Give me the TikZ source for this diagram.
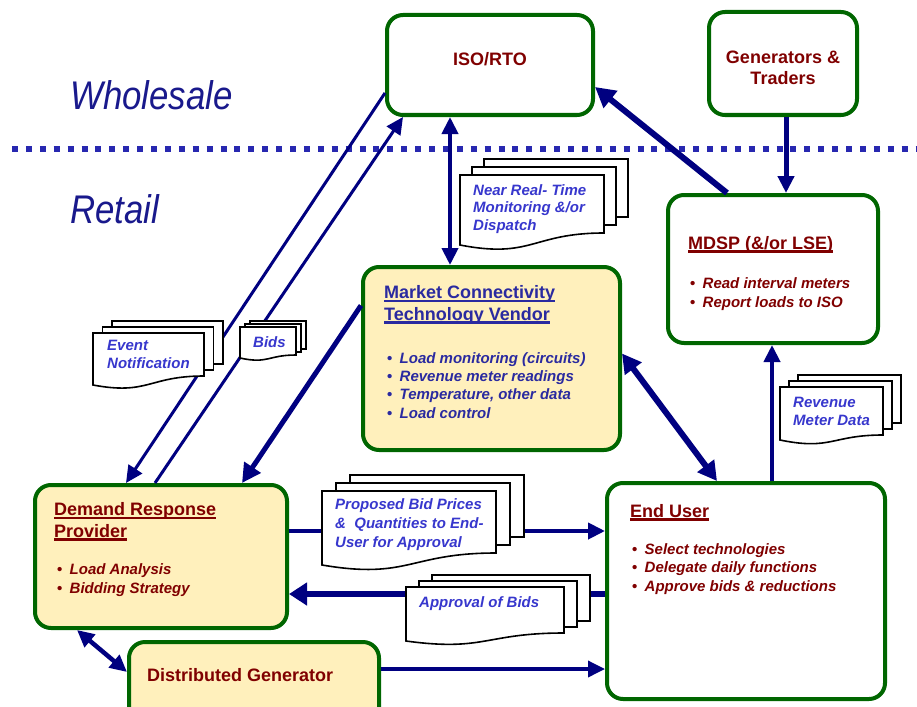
\documentclass[tikz,border=0pt]{standalone}
\usepackage{fontspec}
\setmainfont{Liberation Sans}
\usetikzlibrary{arrows.meta}

\definecolor{boxgreen}{RGB}{0,102,0}
\definecolor{paleyellow}{RGB}{255,240,188}
\definecolor{navy}{RGB}{0,0,128}
\definecolor{dotblue}{RGB}{40,40,176}
\definecolor{zoneblue}{RGB}{25,25,140}
\definecolor{docblue}{RGB}{55,55,205}
\definecolor{vendorblue}{RGB}{42,42,160}
\definecolor{darkred}{RGB}{128,0,0}

% thick underline drawn under a title
\newcommand\ulbar[1]{\setbox0=\hbox{#1}\rlap{\rule[-3.5pt]{\wd0}{2.2pt}}\box0}
% bullet with fixed indent
\newcommand\bull{\makebox[12.5pt][l]{\upshape\textbullet}}
% stack of three pages, front page with a wavy lower edge
% #1 left, #2 top, #3 width, #4 right bottom, #5 left bottom, #6 dx, #7 dy
\newcommand\docstack[7]{%
  \draw[docpage] ({#1+2*#6},{#2-2*#7}) rectangle ({#1+2*#6+#3},{#4-2*#7});
  \draw[docpage] ({#1+#6},{#2-#7}) rectangle ({#1+#6+#3},{#4-#7});
  \draw[docpage] (#1,#2) -- ({#1+#3},#2) -- ({#1+#3},#4)
    .. controls ({#1+0.5*#3},#4) and ({#1+0.5*#3},{#5+0.2*(#5-#2)}) .. (#1,#5) -- cycle;}

\begin{document}
\begin{tikzpicture}[x=1pt,y=-1pt,
  >={Triangle[length=17pt,width=16pt]},
  box/.style={draw=boxgreen, line width=4pt, rounded corners=16pt, fill=white, inner sep=0pt},
  ttl/.style={font=\bfseries\fontsize{18}{21.5}\selectfont, text=darkred, inner sep=0pt, align=left},
  bul/.style={font=\bfseries\itshape\fontsize{15}{18.3}\selectfont, text=darkred, inner sep=0pt, align=left, anchor=base west},
  doctxt/.style={font=\bfseries\itshape\fontsize{15}{18}\selectfont, text=docblue, inner sep=0pt, align=left, anchor=base west},
  docpage/.style={draw=black, line width=1.6pt, fill=white},
  conn/.style={draw=navy},
  zonelabel/.style={font=\itshape\fontsize{40}{40}\selectfont, text=zoneblue, inner sep=0pt, anchor=base west},
]
\useasboundingbox (0,0) rectangle (917,706);
\clip (0,0) rectangle (917,706);

% wholesale / retail boundary
\draw[dotblue, line width=6pt, dash pattern=on 6pt off 7.9pt] (12,149) -- (917,149);
\node[zonelabel] (wholesale) at (70,110) {\scalebox{0.87}[1]{Wholesale}};
\node[zonelabel] (retail) at (70,223) {\scalebox{0.87}[1]{Retail}};

% participants
\node[box, minimum width=206pt, minimum height=100pt] (iso) at (490,65) {};
\node[box, minimum width=148pt, minimum height=103pt] (gen) at (783,63.5) {};
\node[box, minimum width=210pt, minimum height=148pt] (mdsp) at (773,269) {};
\node[box, fill=paleyellow, minimum width=257pt, minimum height=183pt] (mctv) at (491.5,358.5) {};
\node[box, fill=paleyellow, minimum width=252pt, minimum height=143pt] (drp) at (161,556.5) {};
\node[box, fill=paleyellow, minimum width=250pt, minimum height=88pt] (dg) at (254,686) {};
\node[box, minimum width=278pt, minimum height=216pt] (eu) at (746,591) {};

% flows
\draw[conn, line width=3pt, ->] ([yshift=-28pt]iso.west) -- ([xshift=-35pt]drp.north);
\draw[conn, line width=3pt, ->] ([xshift=-6pt]drp.north) -- ([xshift=-87pt]iso.south);
\draw[conn, line width=5pt, -{Triangle[length=19pt,width=19pt]}] ([yshift=53pt]mctv.west) -- ([xshift=81pt]drp.north);
\draw[conn, line width=4pt, <->] ([xshift=-40pt]iso.south) -- ([xshift=-40pt]iso.south |- mctv.north);
\draw[conn, line width=6pt, -{Triangle[length=20pt,width=21pt]}] ([xshift=-46pt]mdsp.north) -- ([yshift=-22pt]iso.east);
\draw[conn, line width=5pt, ->] ([xshift=3pt]gen.south) -- ([xshift=3pt]gen.south |- mdsp.north);
\draw[conn, line width=4pt, ->] ([xshift=26pt]eu.north) -- ([xshift=26pt]eu.north |- mdsp.south);
\draw[conn, line width=6pt, {Triangle[length=19pt,width=20pt]}-{Triangle[length=19pt,width=20pt]}] ([yshift=5pt]mctv.east) -- ([xshift=-29pt]eu.north);
\draw[conn, line width=4pt, ->] ([yshift=25.5pt]drp.east) -- ([yshift=25.5pt]drp.east -| eu.west);
\draw[conn, line width=6.5pt, -{Triangle[length=18pt,width=22pt]}] ([yshift=-37.5pt]drp.east -| eu.west) -- ([yshift=-37.5pt]drp.east);
\draw[conn, line width=4.5pt, <->] ([xshift=-84pt]drp.south) -- ([yshift=14pt]dg.west);
\draw[conn, line width=3.5pt, ->] ([yshift=17pt]dg.east) -- ([yshift=17pt]dg.east -| eu.west);

% documents exchanged
\docstack{93}{333}{111}{376}{385}{9.5}{6}
\docstack{240}{327}{56}{355}{358}{5}{3}
\docstack{460}{175}{144}{233}{245}{12}{8}
\docstack{780}{387}{103}{435}{440}{9}{6}
\docstack{322}{491}{174}{553}{565}{14}{8}
\docstack{406}{587}{158}{633}{641}{13}{6}

% multi-line texts are placed by the baseline of their last line
\node[doctxt] (evt) at (107,368) {Event\\Notification};
\node[doctxt] (bidt) at (253,347) {Bids};
\node[doctxt, font=\bfseries\itshape\fontsize{15}{17.5}\selectfont] (nrt) at (473,230) {Near Real- Time\\Monitoring \&/or\\Dispatch};
\node[doctxt] (rmt) at (793,425) {Revenue\\Meter Data};
\node[doctxt, font=\bfseries\itshape\fontsize{15}{19}\selectfont] (pbt) at (335,547) {Proposed Bid Prices\\\&\ \ Quantities to End-\\User for Approval};
\node[doctxt] (apt) at (419,607) {Approval of Bids};

% box texts
\node[ttl] (isot) at ([yshift=6pt]iso.center) {ISO/RTO};
\node[ttl, align=center] (gent) at ([yshift=-4.5pt]gen.center) {Generators \&\\Traders};
\node[ttl, anchor=base west] (mdspt) at (688,249) {\ulbar{MDSP (\&/or LSE)}};
\node[bul] (mdspb) at (690,307) {\bull Read interval meters\\\bull Report loads to ISO};
\node[ttl, text=vendorblue, anchor=base west] (mctvt) at (384,320) {\ulbar{Market Connectivity}\\\ulbar{Technology Vendor}};
\node[bul, text=vendorblue] (mctvb) at (387,418) {\bull Load monitoring (circuits)\\\bull Revenue meter readings\\\bull Temperature, other data\\\bull Load control};
\node[ttl, anchor=base west] (drpt) at (54,537) {\ulbar{Demand Response}\\\ulbar{Provider}};
\node[bul] (drpb) at (57,593) {\bull Load Analysis\\\bull Bidding Strategy};
\node[ttl, anchor=base west] (eut) at (630,517) {\ulbar{End User}};
\node[bul] (eub) at (632,591) {\bull Select technologies\\\bull Delegate daily functions\\\bull Approve bids \& reductions};
\node[ttl, anchor=base west] (dgt) at (147,681) {Distributed Generator};
\end{tikzpicture}
\end{document}
